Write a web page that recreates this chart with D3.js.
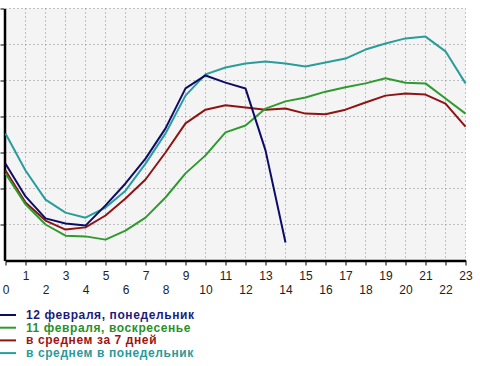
<!DOCTYPE html>
<html>
<head>
<meta charset="utf-8">
<script src="https://cdn.jsdelivr.net/npm/d3@7"></script>
<style>
    body { margin: 0; background: #fff; }
    svg { display: block; }
</style>
</head>
<body>
<svg id="grafico" width="480" height="366"></svg>
<script>
// hours 0..23
var horas = d3.range(0, 24);

var serieSegunda12 = [2.69, 1.78, 1.17, 1.03, 0.97, 1.53, 2.14, 2.83, 3.67, 4.78, 5.14, 4.94, 4.78, 3.06, 0.50];
var serieDomingo11 = [2.42, 1.56, 1.00, 0.69, 0.67, 0.58, 0.83, 1.19, 1.75, 2.42, 2.92, 3.56, 3.75, 4.22, 4.42, 4.53, 4.69, 4.81, 4.92, 5.06, 4.94, 4.92, 4.50, 4.08];
var serieMedia7 = [2.50, 1.61, 1.11, 0.86, 0.92, 1.25, 1.72, 2.25, 3.00, 3.81, 4.19, 4.31, 4.25, 4.19, 4.22, 4.08, 4.06, 4.19, 4.39, 4.58, 4.64, 4.61, 4.36, 3.72];
var serieMediaSegunda = [3.53, 2.50, 1.69, 1.33, 1.19, 1.47, 1.94, 2.69, 3.53, 4.58, 5.17, 5.36, 5.47, 5.53, 5.47, 5.39, 5.50, 5.61, 5.86, 6.03, 6.17, 6.22, 5.81, 4.92];

var legendas = ["12 февраля, понедельник", "11 февраля, воскресенье", "в среднем за 7 дней", "в среднем в понедельник"];
var cores = ["#0c0c66", "#2f9a2f", "#8e1414", "#2a9c9c"];
var coresTexto = ["#1c1c7a", "#2a8f2a", "#9c1414", "#2a9a9a"];

var series = [serieSegunda12, serieDomingo11, serieMedia7, serieMediaSegunda];

var svg = d3.select("#grafico");

var x = d3.scaleLinear().domain([0, 23]).range([5.5, 465.5]);
var y = d3.scaleLinear().domain([0, 7]).range([260.5, 8.5]);

// fundo da area do grafico
svg.append("rect")
    .attr("x", x(0))
    .attr("y", y(7))
    .attr("width", x(23) - x(0))
    .attr("height", y(0) - y(7))
    .attr("fill", "#f4f4f4");

// grade pontilhada
svg.append("g")
    .selectAll("line")
    .data(d3.range(1, 24))
    .join("line")
    .attr("x1", d => x(d))
    .attr("x2", d => x(d))
    .attr("y1", y(7))
    .attr("y2", y(0))
    .attr("stroke", "#8a8a8a")
    .attr("stroke-dasharray", "1,3");

svg.append("g")
    .selectAll("line")
    .data(d3.range(1, 8))
    .join("line")
    .attr("x1", x(0))
    .attr("x2", x(23))
    .attr("y1", d => y(d))
    .attr("y2", d => y(d))
    .attr("stroke", "#8a8a8a")
    .attr("stroke-dasharray", "1,3");

// eixo x
var eixoX = svg.append("g")
    .attr("transform", "translate(0," + y(0) + ")")
    .call(d3.axisBottom(x).tickValues(horas).tickSize(5).tickSizeOuter(0).tickFormat(d3.format("d")));
eixoX.select(".domain").attr("stroke", "#000").attr("stroke-width", 2.5);
eixoX.selectAll(".tick line").attr("stroke", "#000");
eixoX.selectAll(".tick text")
    .attr("y", d => d % 2 == 1 ? 11 : 25)
    .attr("dy", "0.71em")
    .attr("fill", "#222")
    .style("font-family", "'Liberation Sans', Arial, sans-serif")
    .style("font-size", "12px");

// eixo y (sem rotulos)
var eixoY = svg.append("g")
    .attr("transform", "translate(" + (x(0) - 1) + ",0)")
    .call(d3.axisLeft(y).ticks(7).tickSize(4).tickSizeOuter(0).tickFormat(""));
eixoY.select(".domain").attr("stroke", "#000").attr("stroke-width", 2.5);
eixoY.selectAll(".tick line").attr("stroke", "#000");
eixoY.selectAll(".tick").filter(d => d == 0).remove();

// linhas
var linha = d3.line()
    .x((d, i) => x(horas[i]))
    .y(d => y(d));

svg.append("g")
    .selectAll("path")
    .data(series.slice().reverse())
    .join("path")
    .attr("d", d => linha(d))
    .attr("fill", "none")
    .attr("stroke", (d, i) => cores[series.length - 1 - i])
    .attr("stroke-width", 2)
    .attr("stroke-linejoin", "round");

// legenda
var legenda = svg.append("g");
legendas.forEach(function(texto, i) {
    var yl = 315 + i * 12.7;
    legenda.append("line")
        .attr("x1", 0)
        .attr("x2", 16)
        .attr("y1", yl)
        .attr("y2", yl)
        .attr("stroke", cores[i])
        .attr("stroke-width", 2);
    legenda.append("text")
        .attr("x", 26)
        .attr("y", yl + 4)
        .attr("fill", coresTexto[i])
        .style("font-family", "'Liberation Sans', Arial, sans-serif")
        .style("font-size", "12px")
        .style("font-weight", "bold")
        .style("letter-spacing", "0.6px")
        .text(texto);
});
</script>
</body>
</html>
